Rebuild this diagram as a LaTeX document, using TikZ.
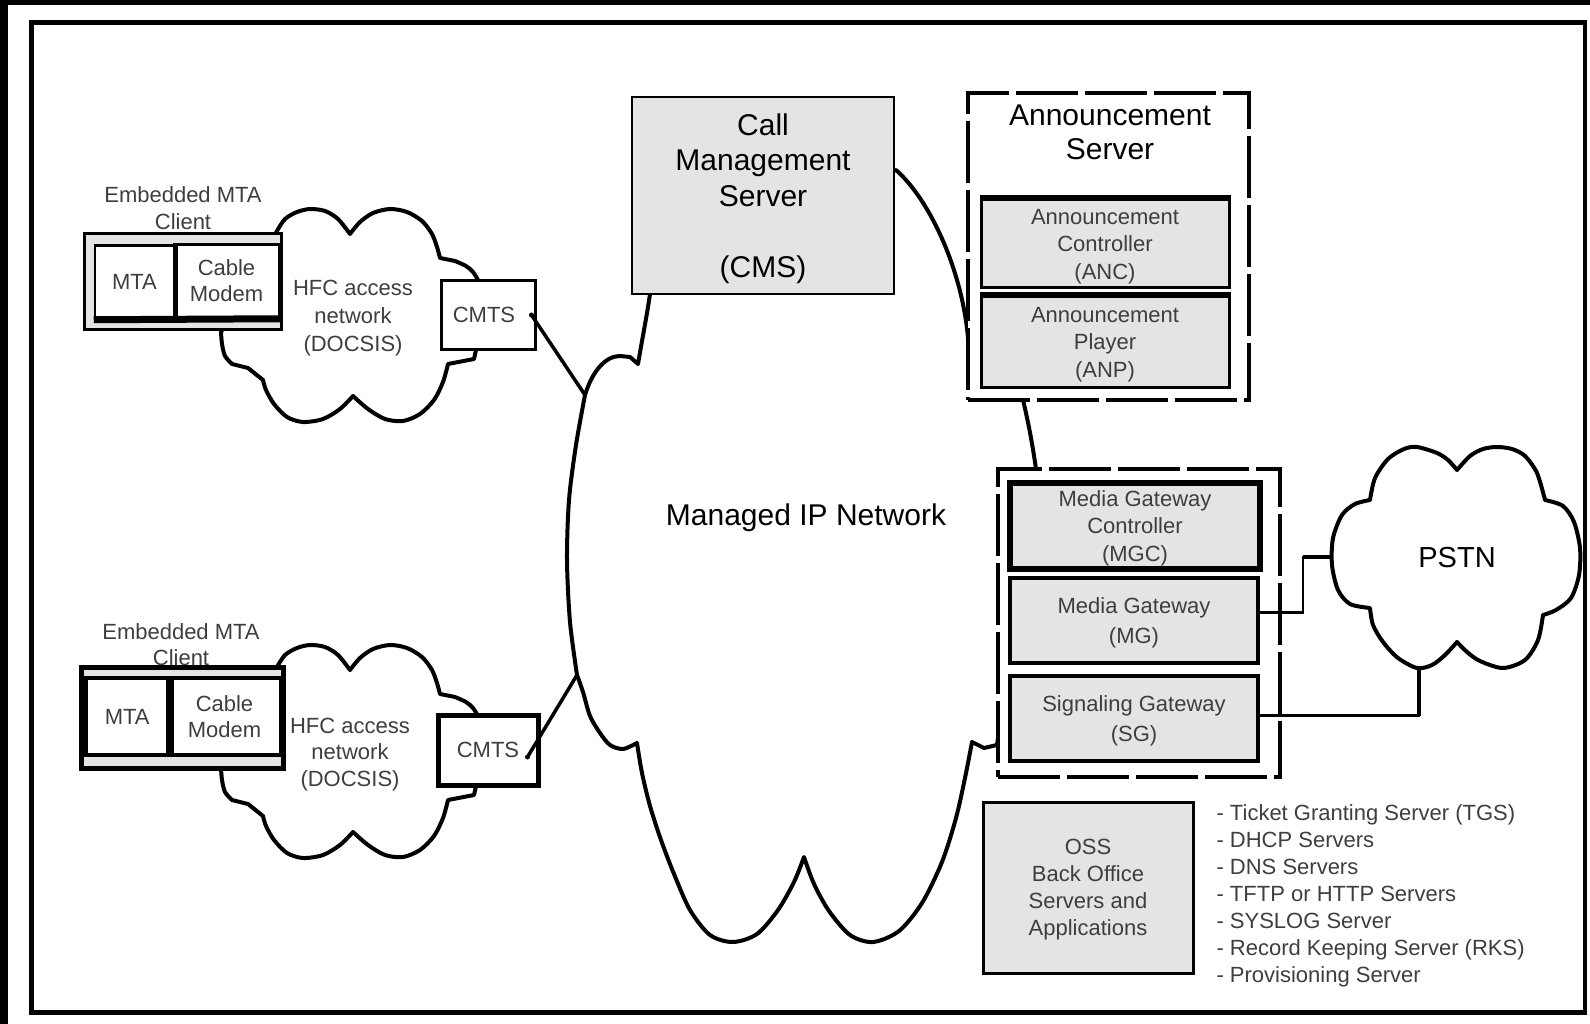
\documentclass[tikz,border=0pt]{standalone}
\usepackage{fontspec}
\setmainfont{Liberation Sans}
\usetikzlibrary{calc}
\definecolor{boxgray}{RGB}{228,228,228}
\definecolor{txtgray}{RGB}{62,62,62}
\newcommand\smallsize{\fontsize{22}{27.5}\selectfont}
\newcommand\bigsize{\fontsize{30}{35.5}\selectfont}
\begin{document}
\begin{tikzpicture}[x=1pt,y=-1pt,
  cloudline/.style={line width=4pt, line join=round, line cap=round},
  graybox/.style={draw, fill=boxgray, inner sep=0pt, align=center},
  whitebox/.style={draw, fill=white, inner sep=0pt, align=center},
  dashbox/.style={draw, fill=white, line width=4pt, dash pattern=on 62pt off 7pt, inner sep=0pt},
  smalltxt/.style={font=\smallsize, text=txtgray, align=center, text depth=0pt},
  bigtxt/.style={font=\bigsize, text=black, align=center, text depth=0pt},
  link/.style={line width=2.5pt},
  wire/.style={line width=3.5pt},
  enddot/.style={circle, fill, inner sep=0pt, minimum size=5pt}
]
\useasboundingbox (0,0) rectangle (1590,1024);

% page border
\fill (0,0) rectangle (1590,5);
\fill (0,0) rectangle (8,1024);
\draw[line width=4.5pt] (31.5,22.5) rectangle (1585,1012.5);

% Managed IP network cloud (parts inside boxes are covered later)
\coordinate (J1) at (585,395);
\coordinate (J2) at (577,675);
\draw[cloudline]
  (J1) .. controls (592,372) and (605,356) .. (620,356) -- (630,357) -- (638,364)
  .. controls (642,340) and (647,315) .. (650,294)
  -- (896,170)
  .. controls (930,200) and (962,270) .. (968,338)
  -- (1023,400)
  .. controls (1029,425) and (1033,448) .. (1036,469)
  -- (997,745) -- (984,748) -- (972,742)
  -- plot[smooth] coordinates {(972,742) (965,778) (956,818) (942,862) (922,903) (899,931) (873,942) (850,935) (829,911) (814,884) (804,857)}
  -- plot[smooth] coordinates {(804,857) (794,882) (778,910) (757,934) (733,942) (710,935) (690,910) (674,874) (661,840) (650,806) (642,773) (637,743)}
  -- plot[smooth] coordinates {(637,743) (623,749) (610,745) (600,733) (590,716) (583,692) (577,675)}
  -- plot[smooth] coordinates {(577,675) (570,622) (567,560) (569,500) (576,445) (585,395)}
  -- cycle;

% PSTN cloud
\draw[cloudline]
  plot[smooth] coordinates {(1457,470) (1470,456) (1483,449) (1497,447) (1512,449) (1525,456) (1537,473) (1545,500)}
  -- plot[smooth] coordinates {(1545,500) (1563,506) (1574,522) (1580,548) (1579,575) (1571,598) (1556,610) (1543,615)}
  -- plot[smooth] coordinates {(1543,615) (1538,640) (1525,660) (1503,668) (1480,661) (1467,652) (1457,642)}
  -- plot[smooth] coordinates {(1457,642) (1445,655) (1432,665) (1417,668) (1398,658) (1383,642) (1373,625) (1370,608)}
  -- plot[smooth] coordinates {(1370,608) (1350,604) (1338,590) (1332,565) (1333,538) (1342,515) (1355,504) (1370,500)}
  -- plot[smooth] coordinates {(1370,500) (1375,478) (1388,459) (1404,449) (1417,447) (1437,453) (1448,460) (1457,470)}
  -- cycle;

% HFC access network clouds (upper and lower client)
\foreach \dy in {0,436} {
\begin{scope}[shift={(0,-\dy)}]
\draw[cloudline]
  plot[smooth] coordinates {(277,667) (285,655) (297,648) (310,645) (325,647) (338,655) (350,670)}
  -- plot[smooth] coordinates {(350,670) (360,658) (373,649) (390,645) (407,648) (422,657) (432,670) (437,683) (440,694)}
  -- (455,697)
  -- plot[smooth] coordinates {(455,697) (466,702) (473,708) (478,716)}
  -- (476,786) -- (474,795) -- (448,800)
  -- plot[smooth] coordinates {(448,800) (443,818) (434,836) (420,850) (403,857) (385,855) (368,845) (353,832)}
  -- plot[smooth] coordinates {(353,832) (340,845) (323,855) (303,858) (287,853) (274,840) (266,826) (263,816)}
  -- (248,804) -- (232,800)
  -- plot[smooth] coordinates {(232,800) (225,792) (222,780) (221,768)}
  -- cycle;
\end{scope}
}

% upper embedded MTA client
\node[smalltxt, font=\fontsize{22}{27}\selectfont] (lblA) at (183,208.5) {Embedded MTA\\Client};
\node[graybox, line width=3pt, minimum width=197pt, minimum height=96pt] (clientA) at (183,281.5) {};
\node[whitebox, line width=2.5pt, minimum width=79pt, minimum height=73pt, smalltxt] (mtaA) at (134.5,282) {MTA};
\node[whitebox, line width=2.5pt, minimum width=105pt, minimum height=73pt, smalltxt, font=\fontsize{22}{26}\selectfont] (cmA) at (226.5,281) {Cable\\Modem};
\draw[line width=5pt] (mtaA.north east) -- (mtaA.south east);
\draw[line width=7pt] (mtaA.south west) -- (cmA.south east);
\node[smalltxt, font=\fontsize{22}{28}\selectfont] (hfcA) at (353,316) {HFC access\\network\\(DOCSIS)};
\node[whitebox, line width=3pt, minimum width=94pt, minimum height=68pt, smalltxt] (cmtsA) at (488,315) {CMTS\hspace*{8pt}};

% lower embedded MTA client
\node[smalltxt, font=\fontsize{22}{26}\selectfont] (lblB) at (181,644.5) {Embedded MTA\\Client};
\node[graybox, line width=5pt, minimum width=202pt, minimum height=101pt] (clientB) at (182,717.5) {};
\node[whitebox, line width=3.5pt, minimum width=82.5pt, minimum height=77pt, smalltxt] (mtaB) at (127.25,716.5) {MTA};
\node[whitebox, line width=3.5pt, minimum width=112pt, minimum height=77pt, smalltxt, font=\fontsize{22}{26}\selectfont] (cmB) at (224.5,716.5) {Cable\\Modem};
\draw[line width=8pt] (mtaB.north east) -- (mtaB.south east);
\node[smalltxt, font=\fontsize{22}{26.5}\selectfont] (hfcB) at (350,752) {HFC access\\network\\(DOCSIS)};
\node[whitebox, line width=5pt, minimum width=100pt, minimum height=70pt, smalltxt] (cmtsB) at (488,750) {CMTS};

% call management server
\node[graybox, line width=2.5pt, minimum width=262pt, minimum height=197pt, bigtxt] (cms) at (763,195.5) {Call\\Management\\Server\\[35.5pt](CMS)};

% announcement server
\node[dashbox, minimum width=281pt, minimum height=307pt] (anns) at (1108.5,246.5) {};
\node[bigtxt, font=\fontsize{30}{34}\selectfont] (annsT) at (1110,132) {Announcement\\Server};
\node[graybox, line width=3pt, minimum width=248pt, minimum height=88pt, smalltxt] (anc) at (1105,244) {Announcement\\Controller\\(ANC)};
\draw[line width=6pt] (anc.north west) -- (anc.north east);
\node[graybox, line width=3pt, minimum width=248pt, minimum height=90pt, smalltxt] (anp) at (1105,342) {Announcement\\Player\\(ANP)};
\draw[line width=6pt] (anp.north west) -- (anp.north east);

% media gateway group
\node[dashbox, minimum width=282pt, minimum height=308pt] (mgdash) at (1139,623) {};
\node[graybox, line width=6pt, minimum width=250pt, minimum height=86pt, smalltxt] (mgc) at (1135,526) {Media Gateway\\Controller\\(MGC)};
\node[graybox, line width=3.5pt, minimum width=248pt, minimum height=85pt, smalltxt, font=\fontsize{22}{30}\selectfont] (mg) at (1134,620.5) {Media Gateway\\(MG)};
\node[graybox, line width=3.5pt, minimum width=248pt, minimum height=85pt, smalltxt, font=\fontsize{22}{30}\selectfont] (sg) at (1134,718.5) {Signaling Gateway\\(SG)};

% back office
\node[graybox, line width=3pt, minimum width=210pt, minimum height=171pt, smalltxt, font=\fontsize{22}{27}\selectfont] (oss) at (1088,887.5) {OSS\\Back Office\\Servers and\\Applications};
\node[smalltxt, align=left, anchor=west, font=\fontsize{22}{27}\selectfont] (osslist) at (1213,894) {- Ticket Granting Server (TGS)\\- DHCP Servers\\- DNS Servers\\- TFTP or HTTP Servers\\- SYSLOG Server\\- Record Keeping Server (RKS)\\- Provisioning Server};

% cloud labels
\node[bigtxt] (ipnet) at (806,515) {Managed IP Network};
\node[bigtxt, font=\fontsize{29}{34}\selectfont] (pstn) at (1457,557) {PSTN};

% CMTS links into the managed network
\node[enddot] (dotA) at ([xshift=-5pt]cmtsA.east) {};
\node[enddot] (dotB) at ([xshift=-13pt,yshift=-7pt]cmtsB.east) {};
\draw[wire] (dotA.center) -- (J1);
\draw[wire] (dotB.center) -- (J2);

% gateway links to the PSTN
\coordinate (pstnW) at (1333,557);
\coordinate (pstnS) at (1419,667);
\coordinate (mgout) at ([yshift=8pt]mg.east);
\coordinate (sgout) at ([yshift=3pt]sg.east);
\draw[link] (mgout) -| ($(pstnW)+(-30,0)$) -- (pstnW);
\draw[line width=4.5pt] ($(pstnW)+(-30,0)$) -- (pstnW);
\draw[link] (sgout) -| (pstnS);
\draw[line width=4pt] (sgout -| pstnS) -- (pstnS);
\end{tikzpicture}
\end{document}
